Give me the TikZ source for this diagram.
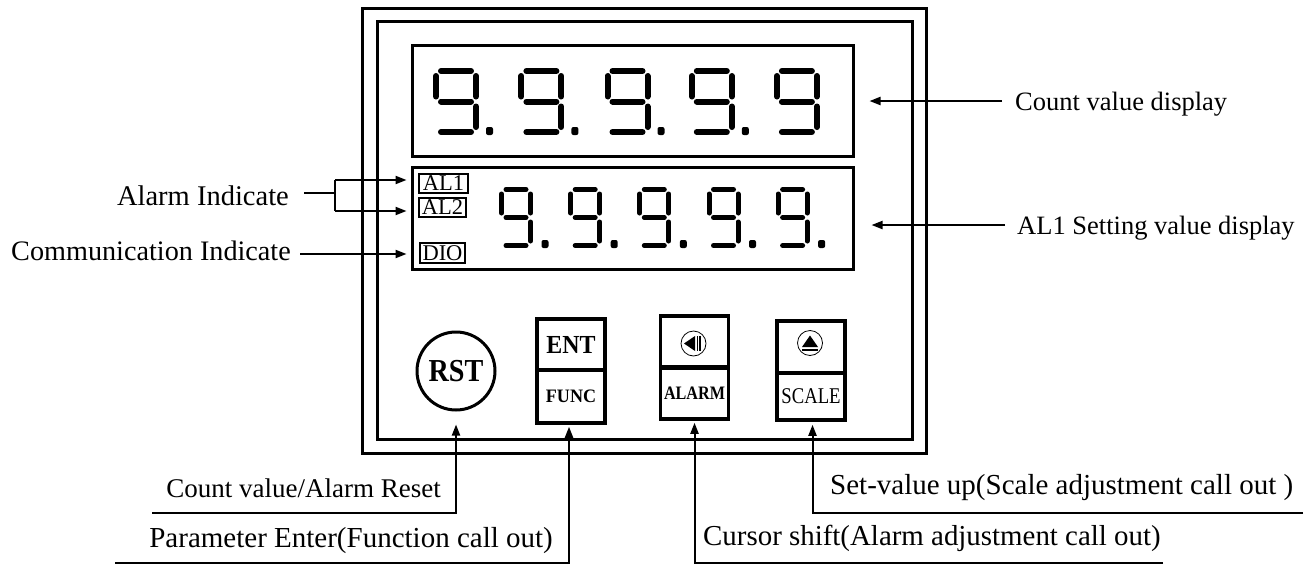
\documentclass[tikz,border=0pt]{standalone}
\usepackage{fontspec}
\setmainfont{Liberation Serif}
\usetikzlibrary{arrows.meta,calc}
\tikzset{
  frame/.style={draw, rectangle, line width=3pt, inner sep=0pt},
  btn/.style={draw, rectangle, line width=3.5pt, inner sep=0pt, minimum width=68pt},
  albox/.style={draw, rectangle, line width=2.2pt, inner sep=0pt, font=\fontsize{22.5}{22}\selectfont},
  conn/.style={line width=2pt},
  arr/.style={line width=2pt, -{Triangle[length=11pt,width=8pt]}},
  lbl/.style={inner sep=0pt},
  seg/.style={line cap=round},
  dotm/.style={fill=black, rounded corners=2pt},
  sym/.style={line width=0.8pt},
}
% #1 left centerline x, #2 top centerline y, #3 width, #4 height, #5 stroke, #6 gap
\newcommand{\ninedigit}[6]{%
  \draw[seg, line width=#5pt]
    (#1+#6, #2) -- (#1+#3-#6, #2)
    (#1, #2+#6) -- (#1, #2+#4/2-#6)
    (#1+#3, #2+#6) -- (#1+#3, #2+#4/2-#6)
    (#1+#6, #2+#4/2) -- (#1+#3-#6, #2+#4/2)
    (#1+#3, #2+#4/2+#6) -- (#1+#3, #2+#4-#6)
    (#1+#6, #2+#4) -- (#1+#3-#6, #2+#4);
}
\begin{document}
\begin{tikzpicture}[x=1pt, y=-1pt]
\useasboundingbox (0,0) rectangle (1306,565);

% frames
\node[frame, minimum width=564pt, minimum height=445pt] (outer) at (644,230.5) {};
\node[frame, minimum width=535pt, minimum height=418pt] (inner) at (644.5,230) {};

% displays
\node[frame, minimum width=441pt, minimum height=111pt] (disp1) at (632.5,100.5) {};
\node[frame, minimum width=441pt, minimum height=102pt] (disp2) at (632.5,218) {};

% top digits
\foreach \x in {433,518.4,604.5,688.8,773.9} {
  \ninedigit{\x+3}{71}{40}{61}{6}{5}
}
\foreach \x in {433,518.4,604.5,688.8} {
  \fill[dotm] (\x+53,127) rectangle (\x+60,135);
}
% bottom digits
\foreach \x in {499,568.2,637.3,706.5,775.6} {
  \ninedigit{\x+2.5}{189.5}{29}{56}{5}{4.5}
  \fill[dotm] (\x+42.5,240) rectangle (\x+49.5,248);
}

% indicator boxes
\node[albox, minimum width=49pt, minimum height=19pt] (al1) at (443.5,183.5) {AL1};
\node[albox, minimum width=47pt, minimum height=19pt] (al2) at (442.5,207.5) {AL2};
\node[albox, minimum width=45pt, minimum height=20pt] (dio) at (442.5,253) {DIO};

% buttons
\node[draw, circle, line width=3pt, minimum size=78pt, inner sep=0pt,
      font=\fontsize{32}{32}\bfseries\selectfont] (rst) at (456,371) {\scalebox{0.88}[1]{RST}};
\node[btn, minimum height=51pt, font=\fontsize{26}{26}\bfseries\selectfont] (entT) at (571,344.5) {\scalebox{0.92}[1]{ENT}};
\node[btn, minimum height=53pt, font=\fontsize{19}{19}\bfseries\selectfont] (entB) at (571,396.5) {\scalebox{0.95}[1]{FUNC}};
\node[btn, minimum height=52pt] (alT) at (694.5,342) {};
\node[btn, minimum height=52pt, font=\fontsize{19}{19}\bfseries\selectfont] (alB) at (694.5,393) {\scalebox{0.85}[1]{ALARM}};
\node[btn, minimum height=52pt] (scT) at (811,347) {};
\node[btn, minimum height=47pt, font=\fontsize{22.5}{22}\selectfont] (scB) at (811,396.5) {\scalebox{0.83}[1]{SCALE}};

% symbols
\node[draw, circle, sym, minimum size=25pt, inner sep=0pt] (alsym) at (693.5,343.5) {};
\fill ($(alsym)+(-9.5,0)$) -- ($(alsym)+(1.5,-7.5)$) -- ($(alsym)+(1.5,7.5)$) -- cycle;
\draw[line width=1pt] ($(alsym)+(4,-7.5)$) -- ($(alsym)+(4,7.5)$);
\draw[line width=2pt] ($(alsym)+(6.5,-7.5)$) -- ($(alsym)+(6.5,7.5)$);
\node[draw, circle, sym, minimum size=25pt, inner sep=0pt] (scsym) at (810,343) {};
\fill ($(scsym)+(0,-7.5)$) -- ($(scsym)+(-8,4)$) -- ($(scsym)+(8,4)$) -- cycle;
\draw[line width=1.6pt] ($(scsym)+(-8,7)$) -- ($(scsym)+(8,7)$);

% left labels
\node[lbl, anchor=base east, font=\fontsize{28.5}{30}\selectfont] (lai) at (289,205) {Alarm Indicate};
\node[lbl, anchor=base east, font=\fontsize{28.2}{30}\selectfont] (lci) at (291,260) {Communication Indicate};
\coordinate (aiS) at (304,193);
\coordinate (br1) at (335,180);
\coordinate (br2) at (335,211);
\coordinate (ciS) at (300,254);
\draw[conn] (aiS) -- (br1 |- aiS);
\draw[conn] (br1) -- (br2);
\draw[arr] (br1) -- ([xshift=-4pt]disp2.west |- br1);
\draw[arr] (br2) -- ([xshift=-4pt]disp2.west |- br2);
\draw[arr] (ciS) -- ([xshift=-4pt]disp2.west |- ciS);

% right labels
\node[lbl, anchor=base west, font=\fontsize{26.5}{28}\selectfont] (lcv) at (1015,110) {Count value display};
\node[lbl, anchor=base west, font=\fontsize{26.5}{28}\selectfont] (las) at (1017,234) {AL1 Setting value display};
\coordinate (cvS) at (1002,101);
\coordinate (asS) at (1005,225);
\draw[arr] (cvS) -- ([xshift=15pt]disp1.east |- cvS);
\draw[arr] (asS) -- ([xshift=17pt]disp2.east |- asS);

% bottom labels
\node[lbl, anchor=base east, font=\fontsize{27}{28}\selectfont] (lrst) at (441,497) {Count value/Alarm Reset};
\node[lbl, anchor=base east, font=\fontsize{29}{30}\selectfont] (lent) at (553,547) {Parameter Enter(Function call out)};
\node[lbl, anchor=base west, font=\fontsize{28.9}{30}\selectfont] (lcur) at (703,545) {Cursor shift(Alarm adjustment call out)};
\node[lbl, anchor=base west, font=\fontsize{29}{30}\selectfont] (lset) at (830,494) {Set-value up(Scale adjustment call out )};
\coordinate (rstS) at (152,513);
\coordinate (entS) at (115,563);
\coordinate (curS) at (1163,563);
\coordinate (setS) at (1303,513);
\draw[arr] (rstS) -| ([yshift=-13pt]rst.south);
\draw[arr] (entS) -| ([xshift=-2pt,yshift=-2pt]entB.south);
\draw[arr] (curS) -| ([yshift=-2pt]alB.south);
\draw[arr] (setS) -| ([xshift=1.5pt,yshift=-3pt]scB.south);
\end{tikzpicture}
\end{document}
